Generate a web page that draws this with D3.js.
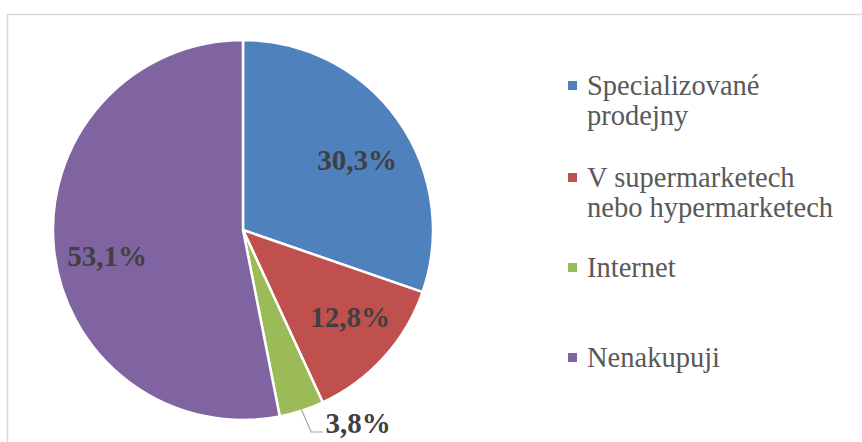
<!DOCTYPE html>
<html>
<head>
<meta charset="utf-8">
<script src="https://cdn.jsdelivr.net/npm/d3@7"></script>
<style>
html,body{margin:0;padding:0;background:#fff;}
svg{display:block;}
</style>
</head>
<body>
<svg id="chart" width="862" height="442" font-family="Liberation Serif, Times New Roman, serif"></svg>
<script>
const categories = ["Specializované prodejny", "V supermarketech nebo hypermarketech", "Internet", "Nenakupuji"];
const legendLines = [["Specializované", "prodejny"], ["V supermarketech", "nebo hypermarketech"], ["Internet"], ["Nenakupuji"]];
const values = [30.3, 12.8, 3.8, 53.1];
const valueLabels = ["30,3%", "12,8%", "3,8%", "53,1%"];
const colors = ["#4F81BD", "#C0504D", "#9BBB59", "#8064A2"];

const FONT = "Liberation Serif, Times New Roman, serif";
const svg = d3.select("#chart");
svg.append("rect").attr("x", 7.5).attr("y", 14.5).attr("width", 900).attr("height", 500)
  .attr("fill", "#fff").attr("stroke", "#d9d9d9").attr("stroke-width", 1.5);

const cx = 243, cy = 230, r = 190;
const pie = d3.pie().sort(null).value(d => d)(values);
const arc = d3.arc().innerRadius(0).outerRadius(r);
const g = svg.append("g").attr("transform", `translate(${cx},${cy})`);
g.selectAll("path").data(pie).join("path")
  .attr("d", arc)
  .attr("fill", (d, i) => colors[i])
  .attr("stroke", "#fff").attr("stroke-width", 2.5).attr("stroke-linejoin", "round");

const labelPos = [[357, 170], [350, 327], [358, 433], [107, 266]];
const labels = svg.append("g");
pie.forEach((d, i) => {
  labels.append("text")
    .attr("x", labelPos[i][0]).attr("y", labelPos[i][1])
    .attr("text-anchor", "middle")
    .attr("font-family", FONT)
    .attr("font-weight", "bold").attr("font-size", 29)
    .attr("fill", "#404040")
    .text(valueLabels[i]);
});
const inet = pie[2];
const mid = (inet.startAngle + inet.endAngle) / 2;
const p0 = [cx + Math.sin(mid) * (r - 2), cy - Math.cos(mid) * (r - 2)];
svg.append("polyline")
  .attr("points", `${p0[0]},${p0[1]} ${p0[0] + 10},${432} ${323},${432}`)
  .attr("fill", "none").attr("stroke", "#a6a6a6").attr("stroke-width", 1.2);

const legendTop = [95, 187, 277, 367];
const leg = svg.append("g");
legendLines.forEach((lines, i) => {
  leg.append("rect").attr("x", 568).attr("y", legendTop[i] - 14).attr("width", 9).attr("height", 9)
    .attr("fill", colors[i]);
  lines.forEach((t, j) => {
    leg.append("text").attr("x", 587).attr("y", legendTop[i] + j * 30)
      .attr("font-family", FONT)
      .attr("font-size", 28.5).attr("fill", "#595959")
      .text(t);
  });
});
</script>
</body>
</html>
